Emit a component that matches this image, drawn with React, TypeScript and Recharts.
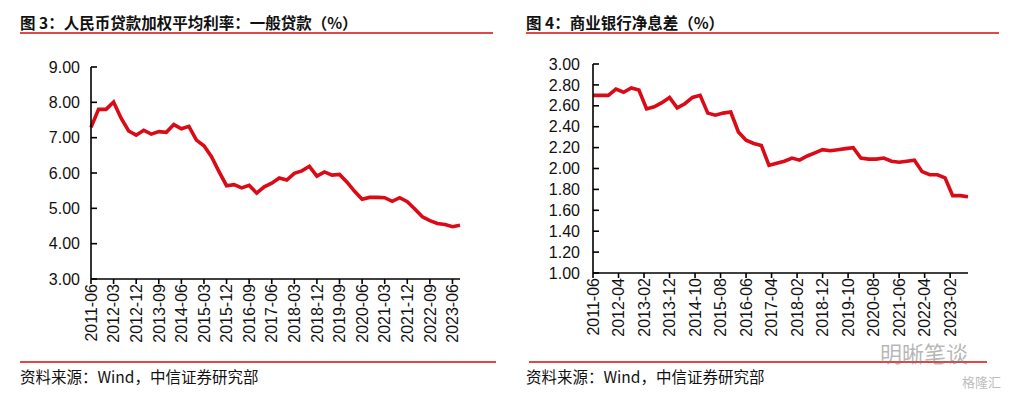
import React from 'react';
import { LineChart, Line, XAxis, YAxis } from 'recharts';

const quarters = [
  '2011-06', '2011-09', '2011-12',
  '2012-03', '2012-06', '2012-09', '2012-12',
  '2013-03', '2013-06', '2013-09', '2013-12',
  '2014-03', '2014-06', '2014-09', '2014-12',
  '2015-03', '2015-06', '2015-09', '2015-12',
  '2016-03', '2016-06', '2016-09', '2016-12',
  '2017-03', '2017-06', '2017-09', '2017-12',
  '2018-03', '2018-06', '2018-09', '2018-12',
  '2019-03', '2019-06', '2019-09', '2019-12',
  '2020-03', '2020-06', '2020-09', '2020-12',
  '2021-03', '2021-06', '2021-09', '2021-12',
  '2022-03', '2022-06', '2022-09', '2022-12',
  '2023-03', '2023-06', '2023-09',
];

const loanRates = [
  7.29, 7.80, 7.80,
  8.01, 7.55, 7.19, 7.07,
  7.21, 7.10, 7.17, 7.15,
  7.37, 7.25, 7.32, 6.93,
  6.77, 6.46, 6.04, 5.64,
  5.67, 5.58, 5.65, 5.43,
  5.61, 5.71, 5.86, 5.80,
  5.99, 6.06, 6.19, 5.91,
  6.03, 5.94, 5.96, 5.74,
  5.48, 5.26, 5.31, 5.31,
  5.30, 5.20, 5.30, 5.19,
  4.98, 4.76, 4.65, 4.57,
  4.54, 4.48, 4.52,
];

const nimValues = [
  2.70, 2.70, 2.70,
  2.76, 2.73, 2.77, 2.75,
  2.57, 2.59, 2.63, 2.68,
  2.58, 2.62, 2.68, 2.70,
  2.53, 2.51, 2.53, 2.54,
  2.35, 2.27, 2.24, 2.22,
  2.03, 2.05, 2.07, 2.10,
  2.08, 2.12, 2.15, 2.18,
  2.17, 2.18, 2.19, 2.20,
  2.10, 2.09, 2.09, 2.10,
  2.07, 2.06, 2.07, 2.08,
  1.97, 1.94, 1.94, 1.91,
  1.74, 1.74, 1.73,
];

const loanYTicks = [3, 4, 5, 6, 7, 8, 9];
const nimYTicks = [1.0, 1.2, 1.4, 1.6, 1.8, 2.0, 2.2, 2.4, 2.6, 2.8, 3.0];
const nimXTickLabels = [
  '2011-06', '2012-04', '2013-02', '2013-12', '2014-10', '2015-08', '2016-06',
  '2017-04', '2018-02', '2018-12', '2019-10', '2020-08', '2021-06', '2022-04', '2023-02',
];

const monthIndex = (s: string) => {
  const [y, m] = s.split('-').map(Number);
  return (y - 2011) * 12 + (m - 6);
};
const monthLabel = (i: number) => {
  const total = 2011 * 12 + 5 + i;
  const y = Math.floor(total / 12);
  const m = (total % 12) + 1;
  return `${y}-${m < 10 ? '0' + m : m}`;
};

const loanData = quarters.map((d, i) => ({ date: d, v: loanRates[i] }));
const nimData = quarters.map((d, i) => ({ m: monthIndex(d), v: nimValues[i] }));
const nimXTicks = nimXTickLabels.map(monthIndex);

const AXIS_FONT = '"Liberation Sans", Arial, sans-serif';
const CJK_FONT = '"Noto Sans CJK SC", "Noto Sans", sans-serif';
const RED = '#DA0A17';

const RotTick = (props: any) => {
  const { x, y, payload, fmt } = props;
  const label = fmt ? fmt(payload.value) : String(payload.value);
  return (
    <text
      x={x}
      y={y}
      transform={`rotate(-90 ${x} ${y})`}
      textAnchor="end"
      dy="0.36em"
      fontSize={16}
      fontFamily={AXIS_FONT}
      fill="#111"
    >
      {label}
    </text>
  );
};

const axisLine = { stroke: '#000', strokeWidth: 1.6 };
const yTick = { fontSize: 16, fontFamily: AXIS_FONT, fill: '#111' };

const Title = ({ x, text }: { x: number; text: string }) => (
  <div
    style={{
      position: 'absolute',
      left: x,
      top: 12,
      fontFamily: CJK_FONT,
      fontSize: 15.5,
      fontWeight: 700,
      color: '#111',
      lineHeight: '20px',
      whiteSpace: 'nowrap',
    }}
  >
    {text}
  </div>
);

const RedRule = ({ x, y, w }: { x: number; y: number; w: number }) => (
  <div style={{ position: 'absolute', left: x, top: y, width: w, height: 2, background: '#E04848' }} />
);

const Source = ({ x }: { x: number }) => (
  <div
    style={{
      position: 'absolute',
      left: x,
      top: 366,
      fontFamily: CJK_FONT,
      fontSize: 15.5,
      color: '#111',
      lineHeight: '20px',
      whiteSpace: 'nowrap',
    }}
  >
    资料来源：Wind，中信证券研究部
  </div>
);

export default function App() {
  return (
    <div style={{ position: 'absolute', left: 0, top: 0, width: 1015, height: 397, background: '#fff', overflow: 'hidden' }}>
      <Title x={20} text="图 3：人民币贷款加权平均利率：一般贷款（%）" />
      <Title x={526} text="图 4：商业银行净息差（%）" />
      <RedRule x={20} y={32} w={473} />
      <RedRule x={526} y={32} w={473} />

      <div style={{ position: 'absolute', left: 0, top: 0 }}>
        <LineChart width={500} height={397} data={loanData} margin={{ top: 67, right: 40, bottom: 0, left: 0 }}>
          <XAxis
            dataKey="date"
            interval={2}
            height={118}
            axisLine={axisLine}
            tickLine={axisLine}
            tickSize={5}
            tickMargin={0}
            tick={<RotTick />}
          />
          <YAxis
            domain={[3, 9]}
            ticks={loanYTicks}
            interval={0}
            width={91}
            axisLine={axisLine}
            tickLine={axisLine}
            tickSize={-6}
            tickMargin={17}
            tick={yTick}
            tickFormatter={(v: number) => v.toFixed(2)}
            allowDataOverflow
          />
          <Line type="linear" dataKey="v" stroke={RED} strokeWidth={3.6} dot={false} isAnimationActive={false} />
        </LineChart>
      </div>

      <div style={{ position: 'absolute', left: 500, top: 0 }}>
        <LineChart width={515} height={397} data={nimData} margin={{ top: 64, right: 47, bottom: 0, left: 0 }}>
          <XAxis
            dataKey="m"
            type="number"
            domain={[0, 147]}
            ticks={nimXTicks}
            interval={0}
            height={124}
            axisLine={axisLine}
            tickLine={axisLine}
            tickSize={5}
            tickMargin={0}
            tick={<RotTick fmt={monthLabel} />}
          />
          <YAxis
            domain={[1, 3]}
            ticks={nimYTicks}
            interval={0}
            width={93}
            axisLine={axisLine}
            tickLine={axisLine}
            tickSize={-6}
            tickMargin={19}
            tick={yTick}
            tickFormatter={(v: number) => v.toFixed(2)}
            allowDataOverflow
          />
          <Line type="linear" dataKey="v" stroke={RED} strokeWidth={3.6} dot={false} isAnimationActive={false} />
        </LineChart>
      </div>

      <RedRule x={20} y={361} w={476} />
      <RedRule x={529} y={361} w={458} />
      <Source x={20} />
      <Source x={526} />

      <div
        style={{
          position: 'absolute',
          left: 880,
          top: 338,
          fontFamily: CJK_FONT,
          fontSize: 22,
          color: 'rgba(120,120,120,0.55)',
          whiteSpace: 'nowrap',
          lineHeight: '28px',
        }}
      >
        明晰笔谈
      </div>
      <div
        style={{
          position: 'absolute',
          left: 962,
          top: 373,
          fontFamily: CJK_FONT,
          fontSize: 13,
          color: 'rgba(120,120,120,0.5)',
          whiteSpace: 'nowrap',
          lineHeight: '18px',
        }}
      >
        格隆汇
      </div>
    </div>
  );
}
